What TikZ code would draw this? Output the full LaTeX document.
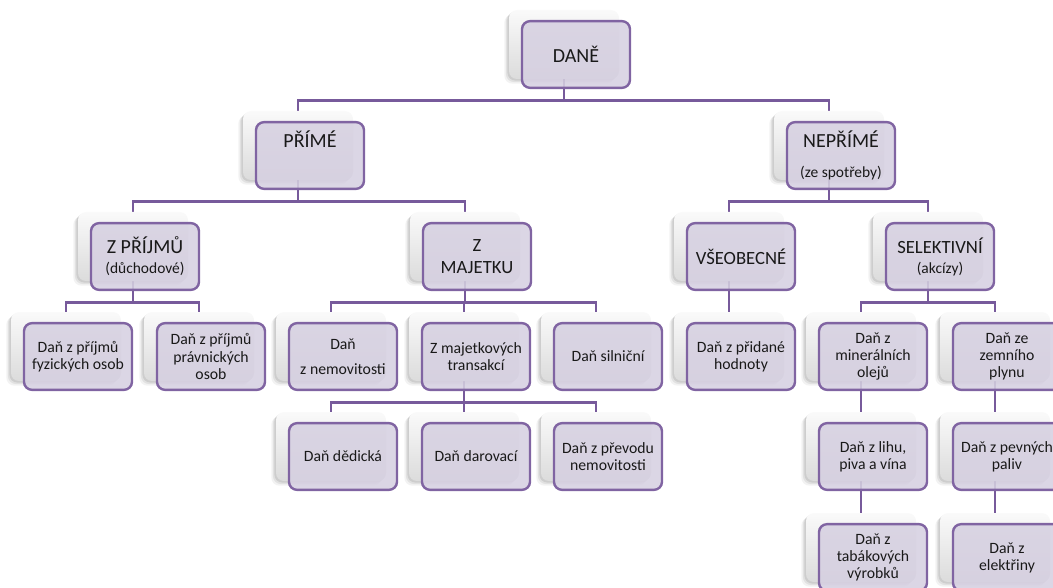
\documentclass[tikz,border=0pt]{standalone}
\usepackage{fontspec}
\setmainfont{Carlito}
\usetikzlibrary{shadows}
\definecolor{bord}{HTML}{8064A2}
\definecolor{conncol}{HTML}{775A9B}
\definecolor{boxfill}{HTML}{D6D0E1}
\pgfdeclarelayer{bg}
\pgfsetlayers{bg,main}
\tikzset{
  box/.style={draw=bord, line width=1.8pt, rounded corners=6pt, fill=boxfill,
    fill opacity=0.88, text opacity=1, text=black!90, inner sep=0pt,
    minimum width=81pt, minimum height=50pt, align=center},
  shbox/.style={rounded corners=6pt, inner sep=0pt, minimum width=82.5pt,
    minimum height=51.75pt, top color=black!2, bottom color=black!14,
    general shadow={fill=black, opacity=.05, shadow xshift=-3.5pt, shadow yshift=-3.5pt},
    general shadow={fill=black, opacity=.07, shadow xshift=-2.3pt, shadow yshift=-2.3pt},
    general shadow={fill=black, opacity=.09, shadow xshift=-1.2pt, shadow yshift=-1.2pt}},
  big/.style={font=\fontsize{15}{15}\selectfont},
  mid/.style={font=\fontsize{14}{16.5}\selectfont},
  leaf/.style={font=\fontsize{11.8}{12.8}\selectfont},
  conn/.style={draw=conncol, line width=1.9pt}
}
\newcommand\smalltxt{\fontsize{11.6}{11.6}\selectfont}
\newcommand\taxbox[5]{%
  \node[shbox] (#1-s) at ({#2-12},{#3-10}) {};
  \node[box,#4] (#1) at (#2,#3) {#5};
}
\begin{document}
\begin{tikzpicture}[x=0.75pt,y=-0.75pt]
\useasboundingbox (0,0) rectangle (1053,588);
% level 1
\taxbox{dane}{576}{54.5}{big}{DANĚ}
% level 2
\taxbox{prime}{310}{155.5}{big}{PŘÍMÉ\\[8pt]{\smalltxt\phantom{(ze spotřeby)}}}
\taxbox{neprime}{841}{155.5}{big}{NEPŘÍMÉ\\[8pt]{\smalltxt(ze spotřeby)}}
% level 3
\taxbox{zprijmu}{145}{256.5}{big}{Z PŘÍJMŮ\\{\smalltxt(důchodové)}}
\taxbox{zmaj}{477}{256.5}{mid}{Z\\MAJETKU}
\taxbox{vseob}{741}{256.5}{mid}{VŠEOBECNÉ}
\taxbox{selekt}{940}{256.5}{mid}{SELEKTIVNÍ\\[-1.5pt]{\smalltxt(akcízy)}}
% level 4
\taxbox{fyz}{78}{356.5}{leaf}{Daň z příjmů\\fyzických osob}
\taxbox{prav}{211}{356.5}{leaf}{Daň z příjmů\\právnických\\osob}
\taxbox{nem}{343}{356.5}{leaf}{Daň\\[6pt]z nemovitosti}
\taxbox{trans}{476}{356.5}{leaf}{Z majetkových\\transakcí}
\taxbox{siln}{608}{356.5}{leaf}{Daň silniční}
\taxbox{dph}{741}{356.5}{leaf}{Daň z přidané\\hodnoty}
\taxbox{miner}{873}{356.5}{leaf}{Daň z\\minerálních\\olejů}
\taxbox{zemn}{1007}{356.5}{leaf}{Daň ze\\zemního\\plynu}
% level 5
\taxbox{ded}{343}{456.5}{leaf}{Daň dědická}
\taxbox{dar}{476}{456.5}{leaf}{Daň darovací}
\taxbox{prev}{608}{456.5}{leaf}{Daň z převodu\\nemovitosti}
\taxbox{lihu}{873}{456.5}{leaf}{Daň z lihu,\\piva a vína}
\taxbox{pev}{1007}{456.5}{leaf}{Daň z pevných\\paliv}
% level 6
\taxbox{tab}{873}{557.5}{leaf}{Daň z\\tabákových\\výrobků}
\taxbox{elek}{1007}{557.5}{leaf}{Daň z\\elektřiny}
% connectors
\begin{pgfonlayer}{bg}
\draw[conn] (dane-s.south) -- ++(0,21) -| (prime-s.north);
\draw[conn] (dane-s.south) -- ++(0,21) -| (neprime-s.north);
\draw[conn] (prime-s.south) -- ++(0,21) -| (zprijmu-s.north);
\draw[conn] (prime-s.south) -- ++(0,21) -| (zmaj-s.north);
\draw[conn] (neprime-s.south) -- ++(0,21) -| (vseob-s.north);
\draw[conn] (neprime-s.south) -- ++(0,21) -| (selekt-s.north);
\draw[conn] (zprijmu-s.south) -- ++(0,21) -| (fyz-s.north);
\draw[conn] (zprijmu-s.south) -- ++(0,21) -| (prav-s.north);
\draw[conn] (zmaj-s.south) -- ++(0,21) -| (nem-s.north);
\draw[conn] (zmaj-s.south) -- ++(0,21) -| (trans-s.north);
\draw[conn] (zmaj-s.south) -- ++(0,21) -| (siln-s.north);
\draw[conn] (vseob-s.south) -- (dph-s.north);
\draw[conn] (selekt-s.south) -- ++(0,21) -| (miner-s.north);
\draw[conn] (selekt-s.south) -- ++(0,21) -| (zemn-s.north);
\draw[conn] (trans-s.south) -- ++(0,21) -| (ded-s.north);
\draw[conn] (trans-s.south) -- ++(0,21) -| (dar-s.north);
\draw[conn] (trans-s.south) -- ++(0,21) -| (prev-s.north);
\draw[conn] (miner-s.south) -- (lihu-s.north);
\draw[conn] (lihu-s.south) -- (tab-s.north);
\draw[conn] (zemn-s.south) -- (pev-s.north);
\draw[conn] (pev-s.south) -- (elek-s.north);
\end{pgfonlayer}
\end{tikzpicture}
\end{document}
